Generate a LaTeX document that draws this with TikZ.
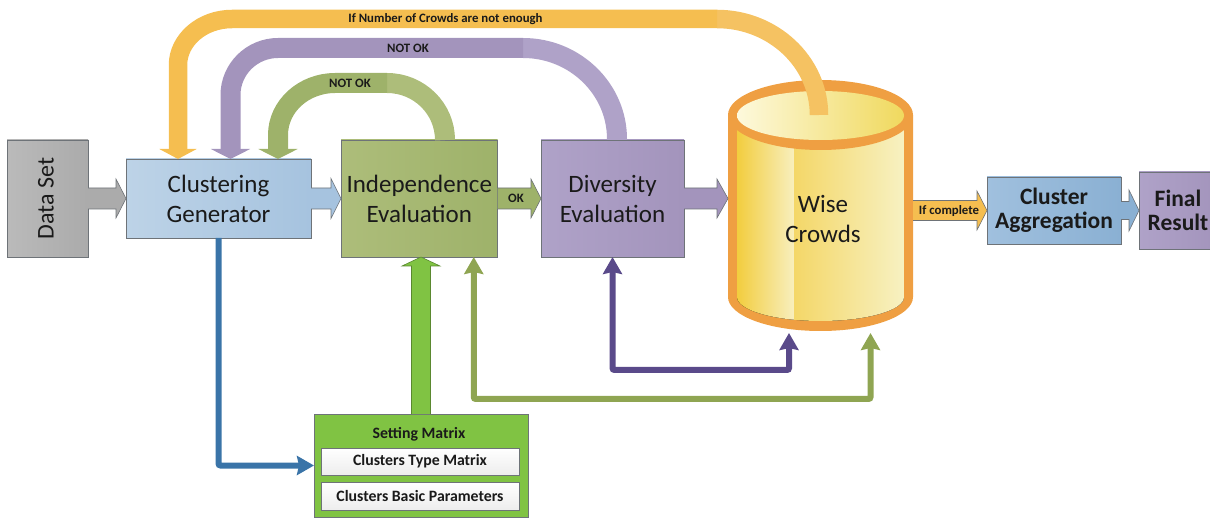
\documentclass[tikz,border=0pt]{standalone}
\usepackage{fontspec}
\setmainfont{Carlito}
\usetikzlibrary{calc,arrows.meta}
\definecolor{txt}{HTML}{1A1A1A}
\definecolor{edge}{HTML}{6E7378}
\definecolor{ylw}{HTML}{F5BE50}
\definecolor{ylwb}{HTML}{F5C262}
\definecolor{pur}{HTML}{A394BC}
\definecolor{purb}{HTML}{AFA2C8}
\definecolor{grn}{HTML}{9EB26A}
\definecolor{grnb}{HTML}{ADBD7A}
\definecolor{org}{HTML}{EF9F42}
\definecolor{lime}{HTML}{80C343}
\definecolor{blu}{HTML}{3A74A8}
\definecolor{vio}{HTML}{5A4A8A}
\definecolor{oli}{HTML}{8FA552}
\definecolor{clustl}{HTML}{BDD3E7}
\definecolor{clustr}{HTML}{A6C3DF}
\definecolor{aggl}{HTML}{A0C0DE}
\definecolor{aggr}{HTML}{8AB0D3}
\definecolor{cya}{HTML}{F2CD3E}
\definecolor{cyb}{HTML}{F8EFBE}
\definecolor{cyc}{HTML}{F4D768}
\definecolor{cyd}{HTML}{F7F1C2}
\definecolor{cye}{HTML}{FDF9DC}
\definecolor{cyf}{HTML}{F0D95E}
\tikzset{
  x=1pt,y=-1pt,
  every node/.style={text=txt,inner sep=0pt,outer sep=0pt,align=center},
  boxed/.style={draw=edge,line width=0.8pt,shading=axis,shading angle=90},
  bigtext/.style={font=\fontsize{25}{30}\selectfont},
  boldtext/.style={font=\fontsize{23.5}{24}\selectfont\bfseries},
  small/.style={font=\fontsize{12.8}{14}\selectfont\bfseries},
  matrixtext/.style={font=\fontsize{15.8}{17}\selectfont\bfseries},
  band/.style={line width=#1,line cap=butt,line join=round},
  thinarrow/.style={line width=6pt,rounded corners=2pt,{Stealth[length=17pt,width=19pt,inset=2pt]}-{Stealth[length=17pt,width=19pt,inset=2pt]}},
  oneway/.style={line width=6pt,rounded corners=2pt,-{Stealth[length=17pt,width=19pt,inset=2pt]}},
  blockedge/.style={draw=edge,line width=0.6pt,line join=miter}
}
\newcommand{\hblock}[6]{\draw[blockedge,fill=#1] ($(#2)+(0,-#4)$) -- ($(#3)+(-#6,-#4)$) -- ($(#3)+(-#6,-#5)$) -- (#3) -- ($(#3)+(-#6,#5)$) -- ($(#3)+(-#6,#4)$) -- ($(#2)+(0,#4)$);}
\begin{document}
\begin{tikzpicture}
\useasboundingbox (0,0) rectangle (1210,518);

% boxes
\node[boxed,left color=black!27,right color=black!33,minimum width=81pt,minimum height=117pt] (data) at (47.5,198.5) {};
\node[rotate=90,font=\fontsize{24}{28}\selectfont] (datalabel) at (46,198.5) {Data Set};
\node[boxed,left color=clustl,right color=clustr,minimum width=185pt,minimum height=79pt,bigtext] (clust) at (218.5,198.5) {Clustering\\Generator};
\node[boxed,left color=grnb,right color=grn,minimum width=156.5pt,minimum height=117pt,bigtext] (indep) at (419.25,198.5) {Independence\\Evaluation};
\node[boxed,left color=purb,right color=pur,minimum width=143pt,minimum height=117pt,bigtext] (div) at (612.5,198.5) {Diversity\\Evaluation};
\node[boxed,left color=aggl,right color=aggr,minimum width=134pt,minimum height=67pt,boldtext] (agg) at (1054,210.5) {Cluster\\Aggregation};
\node[boxed,left color=purb,right color=pur,minimum width=78pt,minimum height=77pt,boldtext] (final) at (1178,210.5) {Final\\Result};
\node[boxed,left color=lime,right color=lime,minimum width=214pt,minimum height=103pt] (setm) at (421,465.5) {};
\node[matrixtext] (setmlabel) at (419,434) {Setting Matrix};
\node[draw=edge,line width=0.7pt,top color=white,bottom color=black!7,minimum width=198pt,minimum height=27pt,matrixtext] (m1) at (420,461.5) {Clusters Type Matrix};
\node[draw=edge,line width=0.7pt,top color=white,bottom color=black!7,minimum width=198pt,minimum height=28pt,matrixtext] (m2) at (420,496) {Clusters Basic Parameters};

% cylinder
\fill[org] (728,115) -- (728,297) .. controls (728,315.8) and (769.4,331) .. (820.5,331) .. controls (871.6,331) and (913,315.8) .. (913,297) -- (913,115) -- cycle;
\begin{scope}
  \clip (737,115) -- (737,297) .. controls (737,310.25) and (774.4,321) .. (820.5,321) .. controls (866.6,321) and (904,310.25) .. (904,297) -- (904,115) -- cycle;
  \fill[left color=cya,right color=cyb] (737,100) rectangle (794,340);
  \fill[left color=cyc,right color=cyd] (794,100) rectangle (904,340);
\end{scope}
\fill[org] (820.5,115) ellipse [x radius=92.5pt,y radius=35pt];
\shade[left color=cye,right color=cyf] (820.5,115.5) ellipse [x radius=83.5pt,y radius=24.5pt];
\node[minimum width=185pt,minimum height=225pt,bigtext] (wise) at (820.5,218.5) {\hspace*{5pt}Wise\\\hspace*{5pt}Crowds};

% horizontal block arrows
\coordinate (divout) at (div.east -| wise.west);
\coordinate (wiseout) at (agg.west -| wise.east);
\hblock{black!33}{data.east}{clust.west}{10.5}{19.5}{10}
\hblock{clustr}{clust.east}{indep.west}{10.5}{20}{10}
\hblock{grn}{indep.east}{div.west}{10.5}{19.5}{10}
\hblock{pur}{div.east}{divout}{10.5}{19.5}{11}
\hblock{ylw}{wiseout}{agg.west}{10}{19.5}{10}
\hblock{aggr}{agg.east}{final.west}{9}{20.5}{10}
\node[small] (oklabel) at (516,198.5) {OK};
\node[small] (completelabel) at (949,211.5) {If complete};

% return bands
\coordinate (yin) at (819,115);
\coordinate (yseam) at (717,19);
\draw[band=18.5pt,ylwb] (yin) .. controls (819,62) and (773,19) .. (yseam);
\draw[band=18.5pt,ylw,-{Triangle[length=10pt,width=37pt]}] (yseam) -- (232,19) .. controls (202,19) and (178,40) .. (178,65) -- ($(clust.north)+(-40.5,0)$);
\node[small] (ylabel) at (445.5,19) {If Number of Crowds are not enough};

\coordinate (pin) at ($(div.north)+(4.5,0)$);
\coordinate (pseam) at (523,48);
\draw[band=20pt,purb] (pin) -- +(0,-1) .. controls (617,89) and (575,48) .. (pseam);
\draw[band=20pt,pur,-{Triangle[length=10pt,width=39pt]}] (pseam) -- (278,48) .. controls (252,48) and (230.5,69) .. (230.5,95) -- ($(clust.north)+(12,0)$);
\node[small] (plabel) at (408,48) {NOT OK};

\coordinate (gin) at ($(indep.north)+(25.75,0)$);
\coordinate (gseam) at (387,83);
\draw[band=20pt,grnb] (gin) .. controls (445,108.5) and (419,83) .. (gseam);
\draw[band=20pt,grn,-{Triangle[length=10pt,width=39pt]}] (gseam) -- (335,83) .. controls (304,83) and (278,106) .. (278,135) -- ($(clust.north)+(59.5,0)$);
\node[small] (glabel) at (350,83) {NOT OK};

% setting matrix arrows
\draw[blu,oneway] (clust.south) |- (setm.west);
\coordinate (lb) at (setm.north);
\coordinate (lt) at (lb |- indep.south);
\draw[blockedge,fill=lime,draw=lime!70!black] (lb) ++(-9.5,0) -- ($(lt)+(-9.5,9)$) -- ($(lt)+(-19,9)$) -- (lt) -- ($(lt)+(19,9)$) -- ($(lt)+(9.5,9)$) -- ($(lb)+(9.5,0)$);

% feedback arrows
\coordinate (wa) at ($(wise.south)+(-31.5,2)$);
\coordinate (wb) at ($(wise.south)+(50,2)$);
\draw[vio,thinarrow] (div.south) |- ($(wa)+(0,37)$) -- (wa);
\draw[oli,thinarrow] ($(indep.south)+(54.5,0)$) |- ($(wb)+(0,66)$) -- (wb);
\end{tikzpicture}
\end{document}
